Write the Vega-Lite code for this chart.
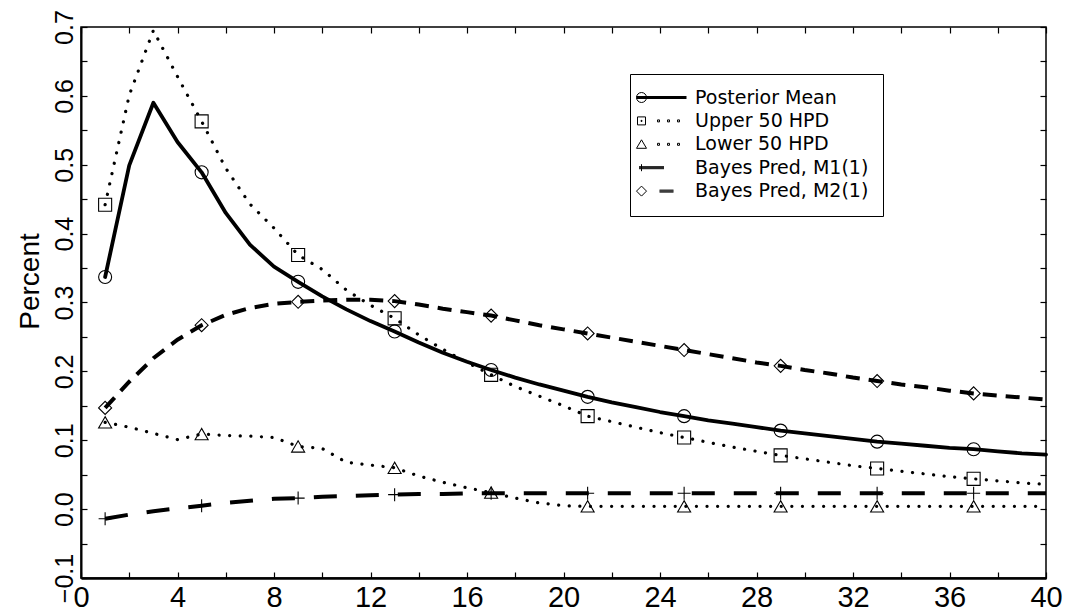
{
  "$schema": "https://vega.github.io/schema/vega-lite/v6.json",
  "width": 965,
  "height": 551,
  "autosize": {"type": "none"},
  "padding": {"left": 81, "top": 27, "right": 22, "bottom": 38},
  "background": "white",
  "data": {"values": [
    {"s":"PM","x":1,"y":0.337},{"s":"PM","x":2,"y":0.499},{"s":"PM","x":3,"y":0.590},{"s":"PM","x":4,"y":0.533},{"s":"PM","x":5,"y":0.489},
    {"s":"PM","x":6,"y":0.430},{"s":"PM","x":7,"y":0.384},{"s":"PM","x":8,"y":0.352},{"s":"PM","x":9,"y":0.330},{"s":"PM","x":10,"y":0.309},
    {"s":"PM","x":11,"y":0.290},{"s":"PM","x":12,"y":0.273},{"s":"PM","x":13,"y":0.258},{"s":"PM","x":14,"y":0.242},{"s":"PM","x":15,"y":0.227},
    {"s":"PM","x":16,"y":0.214},{"s":"PM","x":17,"y":0.202},{"s":"PM","x":18,"y":0.191},{"s":"PM","x":19,"y":0.181},{"s":"PM","x":20,"y":0.172},
    {"s":"PM","x":21,"y":0.163},{"s":"PM","x":22,"y":0.155},{"s":"PM","x":23,"y":0.148},{"s":"PM","x":24,"y":0.141},{"s":"PM","x":25,"y":0.135},
    {"s":"PM","x":26,"y":0.129},{"s":"PM","x":27,"y":0.124},{"s":"PM","x":28,"y":0.119},{"s":"PM","x":29,"y":0.114},{"s":"PM","x":30,"y":0.110},
    {"s":"PM","x":31,"y":0.106},{"s":"PM","x":32,"y":0.102},{"s":"PM","x":33,"y":0.098},{"s":"PM","x":34,"y":0.095},{"s":"PM","x":35,"y":0.092},
    {"s":"PM","x":36,"y":0.089},{"s":"PM","x":37,"y":0.087},{"s":"PM","x":38,"y":0.084},{"s":"PM","x":39,"y":0.081},{"s":"PM","x":40,"y":0.079},

    {"s":"U","x":1,"y":0.442},{"s":"U","x":2,"y":0.601},{"s":"U","x":3,"y":0.695},{"s":"U","x":4,"y":0.628},{"s":"U","x":5,"y":0.563},
    {"s":"U","x":6,"y":0.495},{"s":"U","x":7,"y":0.443},{"s":"U","x":8,"y":0.408},{"s":"U","x":9,"y":0.369},{"s":"U","x":10,"y":0.348},
    {"s":"U","x":11,"y":0.318},{"s":"U","x":12,"y":0.296},{"s":"U","x":13,"y":0.277},{"s":"U","x":14,"y":0.253},{"s":"U","x":15,"y":0.232},
    {"s":"U","x":16,"y":0.213},{"s":"U","x":17,"y":0.195},{"s":"U","x":18,"y":0.178},{"s":"U","x":19,"y":0.164},{"s":"U","x":20,"y":0.150},
    {"s":"U","x":21,"y":0.135},{"s":"U","x":22,"y":0.127},{"s":"U","x":23,"y":0.119},{"s":"U","x":24,"y":0.111},{"s":"U","x":25,"y":0.104},
    {"s":"U","x":26,"y":0.097},{"s":"U","x":27,"y":0.090},{"s":"U","x":28,"y":0.084},{"s":"U","x":29,"y":0.078},{"s":"U","x":30,"y":0.073},
    {"s":"U","x":31,"y":0.068},{"s":"U","x":32,"y":0.063},{"s":"U","x":33,"y":0.059},{"s":"U","x":34,"y":0.055},{"s":"U","x":35,"y":0.051},
    {"s":"U","x":36,"y":0.047},{"s":"U","x":37,"y":0.044},{"s":"U","x":38,"y":0.041},{"s":"U","x":39,"y":0.038},{"s":"U","x":40,"y":0.036},

    {"s":"L","x":1,"y":0.126},{"s":"L","x":2,"y":0.119},{"s":"L","x":3,"y":0.110},{"s":"L","x":4,"y":0.101},{"s":"L","x":5,"y":0.109},
    {"s":"L","x":6,"y":0.107},{"s":"L","x":7,"y":0.106},{"s":"L","x":8,"y":0.104},{"s":"L","x":9,"y":0.091},{"s":"L","x":10,"y":0.088},
    {"s":"L","x":11,"y":0.068},{"s":"L","x":12,"y":0.064},{"s":"L","x":13,"y":0.060},{"s":"L","x":14,"y":0.048},{"s":"L","x":15,"y":0.039},
    {"s":"L","x":16,"y":0.031},{"s":"L","x":17,"y":0.024},{"s":"L","x":18,"y":0.016},{"s":"L","x":19,"y":0.009},{"s":"L","x":20,"y":0.005},
    {"s":"L","x":21,"y":0.004},{"s":"L","x":22,"y":0.004},{"s":"L","x":23,"y":0.004},{"s":"L","x":24,"y":0.004},{"s":"L","x":25,"y":0.004},
    {"s":"L","x":26,"y":0.004},{"s":"L","x":27,"y":0.004},{"s":"L","x":28,"y":0.004},{"s":"L","x":29,"y":0.004},{"s":"L","x":30,"y":0.004},
    {"s":"L","x":31,"y":0.004},{"s":"L","x":32,"y":0.004},{"s":"L","x":33,"y":0.004},{"s":"L","x":34,"y":0.004},{"s":"L","x":35,"y":0.004},
    {"s":"L","x":36,"y":0.004},{"s":"L","x":37,"y":0.004},{"s":"L","x":38,"y":0.004},{"s":"L","x":39,"y":0.004},{"s":"L","x":40,"y":0.004},

    {"s":"M1","x":1,"y":-0.014},{"s":"M1","x":2,"y":-0.008},{"s":"M1","x":3,"y":-0.003},{"s":"M1","x":4,"y":0.001},{"s":"M1","x":5,"y":0.005},
    {"s":"M1","x":6,"y":0.009},{"s":"M1","x":7,"y":0.012},{"s":"M1","x":8,"y":0.015},{"s":"M1","x":9,"y":0.016},{"s":"M1","x":10,"y":0.018},
    {"s":"M1","x":11,"y":0.019},{"s":"M1","x":12,"y":0.020},{"s":"M1","x":13,"y":0.021},{"s":"M1","x":14,"y":0.022},{"s":"M1","x":15,"y":0.022},
    {"s":"M1","x":16,"y":0.023},{"s":"M1","x":17,"y":0.023},{"s":"M1","x":18,"y":0.023},{"s":"M1","x":19,"y":0.023},{"s":"M1","x":20,"y":0.023},
    {"s":"M1","x":21,"y":0.023},{"s":"M1","x":22,"y":0.023},{"s":"M1","x":23,"y":0.023},{"s":"M1","x":24,"y":0.023},{"s":"M1","x":25,"y":0.023},
    {"s":"M1","x":26,"y":0.023},{"s":"M1","x":27,"y":0.023},{"s":"M1","x":28,"y":0.023},{"s":"M1","x":29,"y":0.023},{"s":"M1","x":30,"y":0.023},
    {"s":"M1","x":31,"y":0.023},{"s":"M1","x":32,"y":0.023},{"s":"M1","x":33,"y":0.023},{"s":"M1","x":34,"y":0.023},{"s":"M1","x":35,"y":0.023},
    {"s":"M1","x":36,"y":0.023},{"s":"M1","x":37,"y":0.023},{"s":"M1","x":38,"y":0.023},{"s":"M1","x":39,"y":0.023},{"s":"M1","x":40,"y":0.023},

    {"s":"M2","x":1,"y":0.147},{"s":"M2","x":2,"y":0.185},{"s":"M2","x":3,"y":0.219},{"s":"M2","x":4,"y":0.246},{"s":"M2","x":5,"y":0.267},
    {"s":"M2","x":6,"y":0.282},{"s":"M2","x":7,"y":0.292},{"s":"M2","x":8,"y":0.298},{"s":"M2","x":9,"y":0.301},{"s":"M2","x":10,"y":0.303},
    {"s":"M2","x":11,"y":0.304},{"s":"M2","x":12,"y":0.304},{"s":"M2","x":13,"y":0.302},{"s":"M2","x":14,"y":0.297},{"s":"M2","x":15,"y":0.291},
    {"s":"M2","x":16,"y":0.286},{"s":"M2","x":17,"y":0.281},{"s":"M2","x":18,"y":0.274},{"s":"M2","x":19,"y":0.267},{"s":"M2","x":20,"y":0.261},
    {"s":"M2","x":21,"y":0.255},{"s":"M2","x":22,"y":0.249},{"s":"M2","x":23,"y":0.243},{"s":"M2","x":24,"y":0.237},{"s":"M2","x":25,"y":0.231},
    {"s":"M2","x":26,"y":0.225},{"s":"M2","x":27,"y":0.219},{"s":"M2","x":28,"y":0.213},{"s":"M2","x":29,"y":0.208},{"s":"M2","x":30,"y":0.202},
    {"s":"M2","x":31,"y":0.197},{"s":"M2","x":32,"y":0.191},{"s":"M2","x":33,"y":0.186},{"s":"M2","x":34,"y":0.181},{"s":"M2","x":35,"y":0.177},
    {"s":"M2","x":36,"y":0.172},{"s":"M2","x":37,"y":0.168},{"s":"M2","x":38,"y":0.165},{"s":"M2","x":39,"y":0.162},{"s":"M2","x":40,"y":0.159}
  ]},
  "layer": [
    {
      "transform": [{"filter": "datum.s == 'PM'"}],
      "mark": {"type": "line", "stroke": "black", "strokeWidth": 3.8, "strokeJoin": "round", "strokeCap": "round"},
      "encoding": {
        "x": {"field": "x", "type": "quantitative", "scale": {"domain": [0, 40], "nice": false, "zero": false},
          "axis": {"orient": "bottom", "values": [0,2,4,6,8,10,12,14,16,18,20,22,24,26,28,30,32,34,36,38,40],
            "labelExpr": "datum.value % 4 == 0 ? datum.label : ''",
            "labelFontSize": 29, "labelPadding": 11, "tickSize": -6, "domain": true, "domainWidth": 2.5, "domainColor": "black",
            "title": null, "labelFlush": false, "labelOverlap": false, "labelBound": false}},
        "y": {"field": "y", "type": "quantitative", "scale": {"domain": [-0.1, 0.7], "nice": false, "zero": false},
          "axis": {"orient": "left", "values": [-0.1,-0.05,0,0.05,0.1,0.15,0.2,0.25,0.3,0.35,0.4,0.45,0.5,0.55,0.6,0.65,0.7],
            "labelExpr": "abs(round(datum.value*20)) % 2 == 0 ? format(datum.value, '.1f') : ''",
            "labelAngle": 270, "labelAlign": "center", "labelBaseline": "alphabetic", "labelFontSize": 25, "labelPadding": 15,
            "tickSize": -6, "domain": true, "domainWidth": 2, "domainColor": "black",
            "title": "Percent", "titleFontSize": 28, "titleAngle": 270, "titleAlign": "center", "titleBaseline": "alphabetic",
            "titleX": -43, "titleY": 254, "labelOverlap": false, "labelFlush": false, "labelBound": false}}
      }
    },
    {
      "transform": [{"filter": "datum.s == 'U'"}],
      "mark": {"type": "line", "stroke": "black", "strokeWidth": 3.2, "strokeCap": "round", "strokeDash": [0.1, 10.5]},
      "encoding": {
        "x": {"field": "x", "type": "quantitative", "axis": null},
        "y": {"field": "y", "type": "quantitative", "axis": null}
      }
    },
    {
      "transform": [{"filter": "datum.s == 'L'"}],
      "mark": {"type": "line", "stroke": "black", "strokeWidth": 3.2, "strokeCap": "round", "strokeDash": [0.1, 10.5]},
      "encoding": {
        "x": {"field": "x", "type": "quantitative", "axis": null},
        "y": {"field": "y", "type": "quantitative", "axis": null}
      }
    },
    {
      "transform": [{"filter": "datum.s == 'M1'"}],
      "mark": {"type": "line", "stroke": "black", "strokeWidth": 4, "strokeCap": "butt", "strokeDash": [23, 19]},
      "encoding": {
        "x": {"field": "x", "type": "quantitative", "axis": null},
        "y": {"field": "y", "type": "quantitative", "axis": null}
      }
    },
    {
      "transform": [{"filter": "datum.s == 'M2'"}],
      "mark": {"type": "line", "stroke": "black", "strokeWidth": 4, "strokeCap": "butt", "strokeDash": [14, 9]},
      "encoding": {
        "x": {"field": "x", "type": "quantitative", "axis": null},
        "y": {"field": "y", "type": "quantitative", "axis": null}
      }
    },
    {
      "transform": [{"filter": "datum.x % 4 == 1"}],
      "mark": {"type": "point", "filled": false, "stroke": "black", "strokeWidth": 1.1, "size": 170, "opacity": 1},
      "encoding": {
        "x": {"field": "x", "type": "quantitative",
          "axis": {"orient": "top", "values": [0,2,4,6,8,10,12,14,16,18,20,22,24,26,28,30,32,34,36,38,40],
            "labels": false, "domain": false, "title": null, "tickSize": -6}},
        "y": {"field": "y", "type": "quantitative",
          "axis": {"orient": "right", "values": [-0.1,-0.05,0,0.05,0.1,0.15,0.2,0.25,0.3,0.35,0.4,0.45,0.5,0.55,0.6,0.65,0.7],
            "labels": false, "domain": false, "title": null, "tickSize": -6}},
        "shape": {"field": "s", "type": "nominal",
          "scale": {"domain": ["PM", "U", "L", "M1", "M2"], "range": ["circle", "square", "triangle-up", "M-1,0L1,0M0,-1L0,1", "diamond"]},
          "legend": null}
      }
    },
    {
      "transform": [{"filter": "false"}],
      "mark": {"type": "point", "filled": false, "stroke": "black", "strokeWidth": 1, "opacity": 1},
      "encoding": {
        "shape": {"field": "s", "type": "nominal",
          "scale": {"domain": ["PM", "U", "L", "M1", "M2"],
            "range": [
              "M-1.4,0A1,1,0,1,1,-3.4,0A1,1,0,1,1,-1.4,0M-3.4,-0.2L6.6,-0.2M-3.4,0L6.6,0M-3.4,0.2L6.6,0.2",
              "M-3.2,-0.8L-1.6,-0.8L-1.6,0.8L-3.2,0.8ZM-2.5,-0.1L-2.3,-0.1L-2.3,0.1L-2.5,0.1ZM0.8,-0.2L1.2,-0.2L1.2,0.2L0.8,0.2ZM2.8,-0.2L3.2,-0.2L3.2,0.2L2.8,0.2ZM4.8,-0.2L5.2,-0.2L5.2,0.2L4.8,0.2Z",
              "M-2.4,-0.9L-1.4,0.8L-3.4,0.8ZM0.8,-0.2L1.2,-0.2L1.2,0.2L0.8,0.2ZM2.8,-0.2L3.2,-0.2L3.2,0.2L2.8,0.2ZM4.8,-0.2L5.2,-0.2L5.2,0.2L4.8,0.2Z",
              "M-2.4,-0.7L-2.4,0.7M-2.9,-0.2L2.1,-0.2M-2.9,0L2.1,0M-2.9,0.2L2.1,0.2",
              "M-2.4,-1L-1.4,0L-2.4,1L-3.4,0ZM1.2,-0.2L4.0,-0.2M1.2,0L4.0,0M1.2,0.2L4.0,0.2"
            ]},
          "legend": {"orient": "none", "legendX": 549, "legendY": 47, "title": null,
            "labelExpr": "datum.label == 'PM' ? 'Posterior Mean' : datum.label == 'U' ? 'Upper 50 HPD' : datum.label == 'L' ? 'Lower  50 HPD' : datum.label == 'M1' ? 'Bayes Pred, M1(1)' : 'Bayes Pred, M2(1)'",
            "labelFont": "DejaVu Sans", "labelFontSize": 19, "labelColor": "black", "labelLimit": 400,
            "symbolSize": 100, "symbolStrokeWidth": 1, "symbolStrokeColor": "black",
            "labelOffset": 32, "rowPadding": 3.4, "padding": 14,
            "strokeColor": "black", "fillColor": "white"}}
      }
    }
  ],
  "resolve": {"scale": {"shape": "independent"}},
  "config": {
    "view": {"stroke": "black", "strokeWidth": 1.5},
    "axis": {"grid": false, "tickColor": "black", "tickWidth": 1.2, "labelColor": "black", "titleColor": "black",
      "labelFont": "Liberation Sans", "titleFont": "Liberation Sans", "titleFontWeight": "normal"}
  }
}
